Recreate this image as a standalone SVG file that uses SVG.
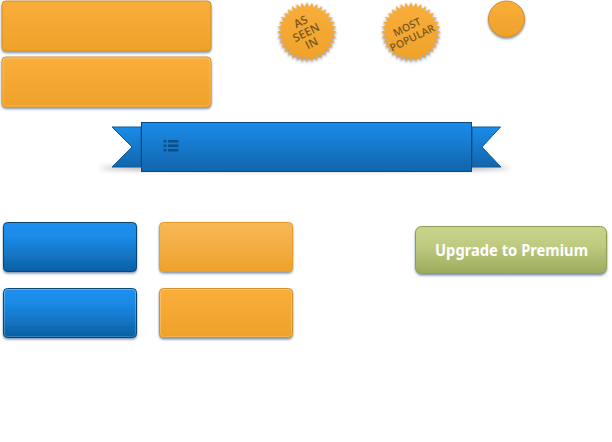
<svg xmlns="http://www.w3.org/2000/svg" width="612" height="442" viewBox="0 0 612 442">
<defs>
<linearGradient id="org" x1="0" y1="0" x2="0" y2="1"><stop offset="0" stop-color="#f9ae3b"/><stop offset="1" stop-color="#efa22a"/></linearGradient>
<linearGradient id="orgL" x1="0" y1="0" x2="0" y2="1"><stop offset="0" stop-color="#f7b859"/><stop offset="1" stop-color="#efa22a"/></linearGradient>
<linearGradient id="blu" x1="0" y1="0" x2="0" y2="1"><stop offset="0" stop-color="#1b8fee"/><stop offset=".3" stop-color="#1a8ae6"/><stop offset="1" stop-color="#0d5fa3"/></linearGradient>
<linearGradient id="rib" x1="0" y1="0" x2="0" y2="1"><stop offset="0" stop-color="#1a8cea"/><stop offset="1" stop-color="#1265ab"/></linearGradient>
<linearGradient id="grn" x1="0" y1="0" x2="0" y2="1"><stop offset="0" stop-color="#c9d48b"/><stop offset=".4" stop-color="#bfcb80"/><stop offset="1" stop-color="#9bab5b"/></linearGradient>
<linearGradient id="hlB" x1="0" y1="0" x2="0" y2="1"><stop offset="0" stop-color="#6ab8f8"/><stop offset="1" stop-color="#3c84c0"/></linearGradient>
<linearGradient id="hlO" x1="0" y1="0" x2="0" y2="1"><stop offset="0" stop-color="#fccb85"/><stop offset="1" stop-color="#f8bb60"/></linearGradient>
<filter id="sh" x="-10%" y="-20%" width="120%" height="140%"><feDropShadow dx="0" dy="1.500" stdDeviation="1" flood-color="#3f5f80" flood-opacity=".7"/></filter>
<filter id="blur" x="-10%" y="-200%" width="120%" height="500%"><feGaussianBlur stdDeviation="2.500"/></filter>
<path id="burst" d="M30 0L24.9 2.18L29.54 5.21L24.15 6.47L28.19 10.26L22.66 10.57L25.98 15L20.48 14.34L22.98 19.28L17.68 17.68L19.28 22.98L14.34 20.48L15 25.98L10.57 22.66L10.26 28.19L6.47 24.15L5.21 29.54L2.18 24.9L0 30L-2.18 24.9L-5.21 29.54L-6.47 24.15L-10.26 28.19L-10.57 22.66L-15 25.98L-14.34 20.48L-19.28 22.98L-17.68 17.68L-22.98 19.28L-20.48 14.34L-25.98 15L-22.66 10.57L-28.19 10.26L-24.15 6.47L-29.54 5.21L-24.9 2.18L-30 0L-24.9 -2.18L-29.54 -5.21L-24.15 -6.47L-28.19 -10.26L-22.66 -10.57L-25.98 -15L-20.48 -14.34L-22.98 -19.28L-17.68 -17.68L-19.28 -22.98L-14.34 -20.48L-15 -25.98L-10.57 -22.66L-10.26 -28.19L-6.47 -24.15L-5.21 -29.54L-2.18 -24.9L0 -30L2.18 -24.9L5.21 -29.54L6.47 -24.15L10.26 -28.19L10.57 -22.66L15 -25.98L14.34 -20.48L19.28 -22.98L17.68 -17.68L22.98 -19.28L20.48 -14.34L25.98 -15L22.66 -10.57L28.19 -10.26L24.15 -6.47L29.54 -5.21L24.9 -2.18Z"/>
</defs>
<style>
.o{fill:url(#org);stroke:#d2902c;stroke-width:1;filter:url(#sh)}
.ol{fill:url(#orgL);stroke:#e79c2c;stroke-width:1;filter:url(#sh)}
.b{fill:url(#blu);stroke:#0b4570;stroke-width:1;filter:url(#sh)}
.in-o{fill:none;stroke:url(#hlO);stroke-width:1;opacity:.7}
.in-b{fill:none;stroke:url(#hlB);stroke-width:1;opacity:.8}
.tail{fill:url(#rib);stroke:#0d5a96;stroke-width:1}
.bt{font-family:"Open Sans","DejaVu Sans",sans-serif;font-size:11.500px;font-weight:600;fill:#7a5820;text-anchor:middle}
</style>
<rect width="612" height="442" fill="#fff"/>
<g id="button-orange-1"><rect class="o" x="2" y="1" width="209" height="50" rx="4"/></g>
<g id="button-orange-2"><rect class="o" x="2" y="57" width="209" height="50" rx="4"/><rect class="in-o" x="3" y="58" width="207" height="48" rx="3"/></g>
<g id="badge-as-seen-in">
<use href="#burst" x="307" y="32" fill="url(#org)" filter="url(#sh)"/>
<g transform="rotate(-27 307 32)"><text class="bt" x="306" y="24">AS</text><text class="bt" x="306" y="36">SEEN</text><text class="bt" x="306" y="48">IN</text></g>
</g>
<g id="badge-most-popular">
<use href="#burst" x="411" y="32" fill="url(#org)" filter="url(#sh)"/>
<g transform="rotate(-26 411 32)"><text class="bt" style="font-size:10.500px" x="409.500" y="29.500">MOST</text><text class="bt" style="font-size:10.500px" x="409.500" y="41.500">POPULAR</text></g>
</g>
<g id="circle-orange"><circle class="o" cx="506.500" cy="19" r="18"/></g>
<g id="ribbon">
<ellipse cx="305" cy="168" rx="205" ry="2.500" fill="#444" opacity=".6" filter="url(#blur)"/>
<polygon class="tail" points="112,127 141,127 141,167 112,167 132,147"/>
<polygon class="tail" points="472,127 500.500,127 482,147 501,167 472,167"/>
<rect x="141.500" y="122.500" width="330" height="49" fill="url(#rib)" stroke="#0b4a7c" stroke-width="1"/>
<g id="list-icon" fill="#0d4f85"><rect x="168" y="140" width="10.500" height="2.500"/><rect x="168" y="144.500" width="10.500" height="2.500"/><rect x="168" y="149" width="10.500" height="2.500"/><rect x="163.500" y="140" width="3" height="2.500"/><rect x="163.500" y="144.500" width="3" height="2.500"/><rect x="163.500" y="149" width="3" height="2.500"/></g>
</g>
<g id="button-blue-1"><rect class="b" x="3.500" y="222.500" width="133" height="49" rx="4"/></g>
<g id="button-blue-2"><rect class="b" x="3.500" y="288.500" width="133" height="49" rx="4"/><rect class="in-b" x="4.500" y="289.500" width="131" height="47" rx="3"/></g>
<g id="button-orange-3"><rect class="ol" x="159.500" y="222.500" width="133" height="49" rx="4"/></g>
<g id="button-orange-4"><rect class="o" x="159.500" y="288.500" width="133" height="49" rx="4"/><rect class="in-o" x="160.500" y="289.500" width="131" height="47" rx="3"/></g>
<g id="button-upgrade"><rect x="415.500" y="226.500" width="191" height="47" rx="6" fill="url(#grn)" stroke="#8f9f55" stroke-width="1" filter="url(#sh)"/>
<text x="435" y="256" font-family="'Noto Sans','Open Sans',sans-serif" font-size="15.500" font-weight="700" fill="#fff" textLength="153" lengthAdjust="spacingAndGlyphs">Upgrade to Premium</text></g>
</svg>
